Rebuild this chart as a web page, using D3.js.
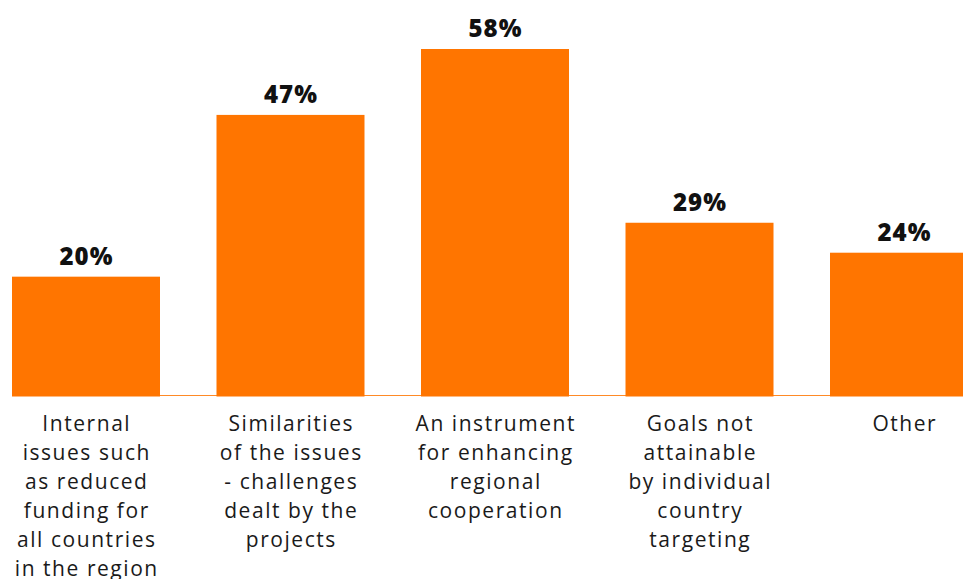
<!DOCTYPE html>
<html>
<head>
<meta charset="utf-8">
<script src="https://cdn.jsdelivr.net/npm/d3@7"></script>
<style>
  html, body { margin: 0; padding: 0; background: #ffffff; overflow: hidden; }
  svg { display: block; }
</style>
</head>
<body>
<svg id="chart" width="963" height="579"></svg>
<script>
// Reasons given, share of respondents (%)
const categories = [
  ["Internal", "issues such", "as reduced", "funding for", "all countries", "in the region"],
  ["Similarities", "of the issues", "- challenges", "dealt by the", "projects"],
  ["An instrument", "for enhancing", "regional", "cooperation"],
  ["Goals not", "attainable", "by individual", "country", "targeting"],
  ["Other"]
];
const values = [20, 47, 58, 29, 24];
const valueLabels = ["20%", "47%", "58%", "29%", "24%"];

const W = 963, H = 579;
const barColor = "#ff7500";
const fontFamily = "'Open Sans', 'Noto Sans', sans-serif";

const svg = d3.select("#chart");
const keys = categories.map((c, i) => i);

const x = d3.scaleBand()
  .domain(keys)
  .range([12, 978])
  .paddingInner(0.2763)
  .paddingOuter(0);

const y = d3.scaleLinear()
  .domain([0, 58])
  .range([396.5, 49]);

// baseline rule
svg.append("line")
  .attr("x1", x(0)).attr("x2", W)
  .attr("y1", 395.5).attr("y2", 395.5)
  .attr("stroke", barColor).attr("stroke-opacity", 0.85)
  .attr("stroke-width", 1.2);

// bars
svg.append("g").selectAll("rect")
  .data(values)
  .join("rect")
  .attr("x", (d, i) => x(i))
  .attr("y", d => y(d))
  .attr("width", x.bandwidth())
  .attr("height", d => y(0) - y(d))
  .attr("fill", barColor);

// value labels
svg.append("g").selectAll("text")
  .data(values)
  .join("text")
  .attr("x", (d, i) => x(i) + x.bandwidth() / 2 + 0.5)
  .attr("y", d => y(d) - 12)
  .attr("text-anchor", "middle")
  .attr("font-family", fontFamily)
  .attr("font-weight", 800)
  .attr("font-size", 24)
  .attr("letter-spacing", 1)
  .attr("fill", "#111111")
  .text((d, i) => valueLabels[i]);

// category labels, one tspan per line
const cat = svg.append("g").selectAll("text")
  .data(categories)
  .join("text")
  .attr("text-anchor", "middle")
  .attr("font-family", fontFamily)
  .attr("font-weight", 400)
  .attr("font-size", 21)
  .attr("letter-spacing", 1.55)
  .attr("fill", "#1a1a1a");

cat.selectAll("tspan")
  .data((lines, i) => lines.map(t => ({ t, i })))
  .join("tspan")
  .attr("x", d => x(d.i) + x.bandwidth() / 2 + 0.8)
  .attr("y", (d, j) => 430.7 + j * 29)
  .text(d => d.t);
</script>
</body>
</html>
